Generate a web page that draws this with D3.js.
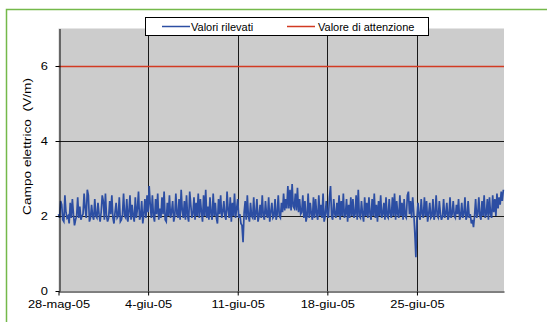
<!DOCTYPE html>
<html>
<head>
<meta charset="utf-8">
<script src="https://cdn.jsdelivr.net/npm/d3@7"></script>
<style>
  html, body { margin: 0; padding: 0; background: #ffffff; }
  svg { display: block; font-family: Arial, "Liberation Sans", sans-serif; }
</style>
</head>
<body>
<svg id="chart" width="547" height="322"></svg>
<script>
// Electric field readings, one value every 2 hours from 28 May 2005 (V/m)
const startDate = "2005-05-28T00:00:00Z";
const stepHours = 2;
const fieldValues = [
  2.05,1.95,2.40,2.30,1.90,1.85,2.55,2.10,1.95,2.00,1.80,2.35,
  1.95,2.45,2.05,1.75,1.90,2.00,2.50,1.95,2.25,1.90,2.00,2.05,
  2.60,2.20,1.95,2.70,2.55,1.85,1.95,2.30,2.00,1.90,2.45,2.00,
  1.95,2.35,2.05,1.85,2.10,2.55,2.40,1.90,2.60,2.00,1.85,1.95,
  2.40,2.05,2.55,1.95,1.80,2.10,2.35,1.95,2.00,2.50,1.85,1.90,
  2.05,2.60,2.00,1.95,2.45,1.85,2.10,2.55,1.90,2.30,2.00,1.85,
  2.50,1.95,2.20,2.65,1.90,2.00,2.40,1.80,2.05,2.45,1.95,2.55,
  2.10,2.80,2.30,1.95,2.55,2.00,1.85,2.45,2.05,2.60,1.90,2.20,
  1.95,2.50,2.05,2.65,1.90,1.85,2.35,2.00,2.55,1.95,2.10,2.40,
  1.85,2.00,2.60,2.05,1.95,2.45,1.90,2.70,2.15,1.95,2.40,1.90,
  2.55,2.00,1.85,2.65,2.30,1.95,2.05,2.50,1.90,2.35,2.00,2.60,
  1.95,2.45,2.10,1.85,2.55,2.00,2.70,1.95,2.25,1.90,2.50,2.05,
  1.90,2.60,2.00,2.35,1.95,1.80,2.45,2.05,2.55,1.95,2.10,2.40,
  2.00,1.90,2.65,2.15,1.95,2.50,1.85,2.35,2.00,2.60,1.95,2.20,
  2.45,1.95,2.05,1.80,1.75,1.30,2.10,2.40,1.90,2.55,2.00,1.85,
  2.35,2.00,1.95,2.50,1.90,2.05,2.45,1.85,2.00,2.30,1.95,2.55,
  2.00,1.90,2.40,2.05,1.95,2.50,1.85,2.10,2.35,1.95,2.00,2.45,
  1.90,2.05,2.55,2.00,1.95,2.35,2.10,2.60,2.15,2.45,2.20,2.80,
  2.20,2.70,2.15,2.85,2.25,2.20,2.60,2.15,2.75,2.10,2.45,2.05,
  2.10,2.55,1.95,2.40,1.85,2.00,2.60,1.95,2.35,2.05,1.90,2.50,
  1.95,2.45,2.05,1.90,2.55,2.00,2.30,1.95,2.60,1.85,2.00,2.40,
  2.05,1.95,2.50,2.80,2.00,1.90,2.45,2.05,1.95,2.35,2.00,2.55,
  1.90,2.40,2.00,2.60,1.95,2.05,2.45,1.85,2.30,1.95,2.50,2.00,
  2.45,1.95,2.05,2.55,1.90,2.70,2.00,1.95,2.40,2.05,1.85,2.50,
  2.00,2.35,1.95,2.50,2.05,1.90,2.45,2.00,2.60,1.95,2.30,1.85,
  2.40,2.00,2.55,1.95,2.05,2.35,1.90,2.50,2.00,1.95,2.45,2.05,
  1.95,2.50,2.00,2.60,1.90,2.40,2.05,1.95,2.55,2.00,2.35,1.90,
  2.45,2.00,1.95,2.55,2.65,2.05,2.40,1.95,2.50,2.10,1.55,0.90,
  1.95,2.35,2.00,1.90,2.45,2.05,1.95,2.50,2.00,2.40,1.85,2.05,
  2.35,1.95,2.00,2.45,1.90,2.05,2.55,2.00,1.95,2.40,2.05,1.90,
  2.00,2.45,1.95,2.05,2.35,1.90,2.00,2.50,1.95,2.05,2.40,2.00,
  1.95,2.30,2.05,2.45,1.90,2.00,2.35,1.95,2.05,2.50,1.90,2.00,
  2.40,1.95,2.05,1.80,1.90,1.70,2.00,2.45,1.95,2.05,2.50,2.00,
  1.90,2.40,2.00,2.55,1.95,2.05,2.45,1.90,2.50,2.05,1.95,2.55,
  2.10,2.45,2.00,2.60,2.20,2.50,2.30,2.65,2.40,2.70
];
const attentionValue = 6;
const yTicks = [0, 2, 4, 6];
const yGridValues = [2, 4, 6];
const xTickDates = ["2005-05-28", "2005-06-04", "2005-06-11", "2005-06-18", "2005-06-25"];
const xTickLabels = ["28-mag-05", "4-giu-05", "11-giu-05", "18-giu-05", "25-giu-05"];
const xDomain = ["2005-05-28T00:00:00Z", "2005-07-01T19:12:00Z"];
const yDomain = [0, 7];
const legendItems = ["Valori rilevati", "Valore di attenzione"];
const yTitle = "Campo elettrico  (V/m)";

const plot = { left: 58.5, right: 504, top: 28.5, bottom: 291 };
const colors = { series: "#2c4ea3", attention: "#d23a22", plotBg: "#cccccc", frame: "#74b94a", grid: "#1a1a1a" };

const svg = d3.select("#chart");

const t0 = new Date(startDate).getTime();
const data = fieldValues.map((v, i) => ({ date: new Date(t0 + i * stepHours * 3600e3), value: v }));

const x = d3.scaleUtc().domain(xDomain.map(d => new Date(d))).range([plot.left, plot.right]);
const y = d3.scaleLinear().domain(yDomain).range([plot.bottom, plot.top]);

// outer frame
svg.append("path")
  .attr("d", "M6.5,322 V9.5 H547")
  .attr("fill", "none")
  .attr("stroke", colors.frame)
  .attr("stroke-width", 1.5);

// plot background
svg.append("rect")
  .attr("x", plot.left).attr("y", plot.top)
  .attr("width", plot.right - plot.left).attr("height", plot.bottom - plot.top)
  .attr("fill", colors.plotBg);

// gridlines
const gridG = svg.append("g").attr("stroke", colors.grid).attr("stroke-width", 1);
gridG.selectAll("line.h").data(yGridValues).join("line")
  .attr("class", "h")
  .attr("x1", plot.left).attr("x2", plot.right)
  .attr("y1", d => Math.round(y(d)) + 0.5).attr("y2", d => Math.round(y(d)) + 0.5);
gridG.selectAll("line.v").data(xTickDates.slice(1)).join("line")
  .attr("class", "v")
  .attr("x1", d => Math.round(x(new Date(d + "T00:00:00Z"))) + 0.5)
  .attr("x2", d => Math.round(x(new Date(d + "T00:00:00Z"))) + 0.5)
  .attr("y1", plot.top).attr("y2", plot.bottom);

// attention level
svg.append("line")
  .attr("x1", plot.left).attr("x2", plot.right)
  .attr("y1", Math.round(y(attentionValue)) + 0.5).attr("y2", Math.round(y(attentionValue)) + 0.5)
  .attr("stroke", colors.attention).attr("stroke-width", 1.5);

// measured series
const line = d3.line().x(d => x(d.date)).y(d => y(d.value));
svg.append("path")
  .datum(data)
  .attr("d", line)
  .attr("fill", "none")
  .attr("stroke", colors.series)
  .attr("stroke-width", 1.7)
  .attr("stroke-linejoin", "miter");

// axes
const xAxis = d3.axisBottom(x)
  .tickValues(xTickDates.map(d => new Date(d + "T00:00:00Z")))
  .tickFormat((d, i) => xTickLabels[i])
  .tickSizeOuter(0).tickSizeInner(4).tickPadding(5);
const gx = svg.append("g").attr("transform", `translate(0,${Math.round(plot.bottom) + 0.5})`).call(xAxis);
gx.select(".domain").attr("stroke", "#000");
gx.selectAll(".tick line").attr("stroke", "#000");
gx.selectAll(".tick text")
  .attr("font-size", 11).attr("fill", "#000")
  .attr("font-family", "Arial, 'Liberation Sans', sans-serif")
  .attr("transform", "scale(1.17,1)");

const yAxis = d3.axisLeft(y).tickValues(yTicks).tickFormat(d3.format("d"))
  .tickSizeOuter(0).tickSizeInner(4).tickPadding(6);
const gy = svg.append("g").attr("transform", `translate(${Math.round(plot.left) + 0.5},0)`).call(yAxis);
gy.select(".domain").attr("stroke", "#000");
gy.selectAll(".tick line").attr("stroke", "#000");
gy.selectAll(".tick text")
  .attr("font-size", 11).attr("fill", "#000")
  .attr("font-family", "Arial, 'Liberation Sans', sans-serif")
  .attr("transform", "scale(1.17,1)");

// y axis title
svg.append("text")
  .attr("transform", "translate(31,146.5) rotate(-90)")
  .attr("text-anchor", "middle")
  .attr("font-size", 11.5)
  .attr("fill", "#000")
  .style("white-space", "pre")
  .attr("textLength", 137)
  .attr("lengthAdjust", "spacingAndGlyphs")
  .text(yTitle);

// legend
const legend = svg.append("g");
legend.append("rect")
  .attr("x", 145.5).attr("y", 17.5).attr("width", 283).attr("height", 18)
  .attr("fill", "#fff").attr("stroke", "#000").attr("stroke-width", 1);
const legendPos = [{ x1: 162, x2: 190, tx: 191, color: colors.series }, { x1: 287, x2: 315, tx: 318, color: colors.attention }];
legendItems.forEach((label, i) => {
  const p = legendPos[i];
  legend.append("line")
    .attr("x1", p.x1).attr("x2", p.x2).attr("y1", 26.5).attr("y2", 26.5)
    .attr("stroke", p.color).attr("stroke-width", 1.5);
  legend.append("text")
    .attr("x", p.tx).attr("y", 30.5)
    .attr("font-size", 11).attr("fill", "#000")
    .text(label);
});
</script>
</body>
</html>
